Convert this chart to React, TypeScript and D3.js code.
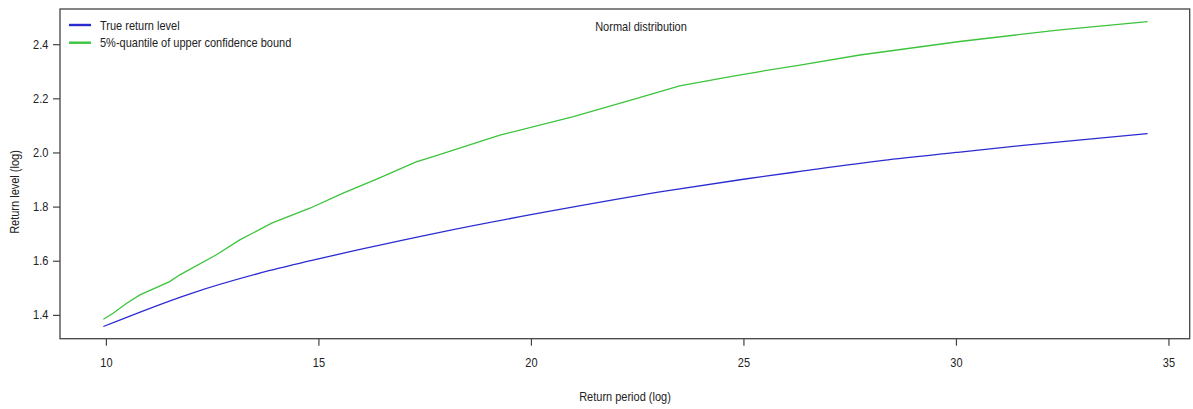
import * as d3 from "d3";
import { useEffect, useRef } from "react";

// true return level (blue)
const trueX = [9.94, 11.98, 13.86, 15, 15.9, 17.86, 20, 20.45, 23.19, 25, 26.33, 28.29, 30, 31.58, 34.51];
const trueY = [1.357, 1.478, 1.564, 1.607, 1.639, 1.705, 1.77, 1.783, 1.858, 1.901, 1.93, 1.971, 2.0, 2.026, 2.07];

// 5%-quantile of upper confidence bound (green)
const boundX = [9.94, 10.17, 10.49, 10.8, 11.5, 11.74, 12.6, 13.15, 13.9, 14.8, 15.58, 16.33, 17.3, 17.7, 19.27, 21.0, 22.41, 23.5, 24.76, 25.39, 26.33, 27.74, 30.09, 32.45, 34.51];
const boundY = [1.384, 1.406, 1.443, 1.474, 1.523, 1.548, 1.622, 1.677, 1.739, 1.794, 1.85, 1.899, 1.965, 1.985, 2.064, 2.132, 2.196, 2.246, 2.282, 2.299, 2.323, 2.36, 2.41, 2.453, 2.483];

const xTicks = [10, 15, 20, 25, 30, 35];
const yTicks = [1.4, 1.6, 1.8, 2.0, 2.2, 2.4];

const legendItems = [
  { label: "True return level", color: "#2b2bd2" },
  { label: "5%-quantile of upper confidence bound", color: "#3cc43c" },
];

const width = 1193;
const height = 409;
const plot = { left: 60, right: 1189.7, top: 9, bottom: 338.7 };
const font = "'Liberation Sans', Arial, sans-serif";
const squeeze = 0.88;

export default function App() {
  const svgRef = useRef<SVGSVGElement>(null);

  useEffect(() => {
    if (!svgRef.current) return;
    const svg = d3.select(svgRef.current);
    svg.selectAll("*").remove();

    const xScale = d3.scaleLinear().domain([8.92, 35.5]).range([plot.left, plot.right]);
    const yScale = d3.scaleLinear().domain([1.312, 2.53]).range([plot.bottom, plot.top]);

    // x axis
    const xAxis = svg.append("g")
      .attr("transform", `translate(0, ${plot.bottom})`)
      .call(d3.axisBottom(xScale).tickValues(xTicks).tickSize(7).tickPadding(12.3).tickFormat(d3.format("d")));
    xAxis.select(".domain").remove();
    xAxis.selectAll("line").attr("stroke", "#444").attr("stroke-width", 1.2);
    xAxis.selectAll("text")
      .attr("font-size", 12.5)
      .attr("font-family", font)
      .attr("fill", "#222")
      .attr("transform", `scale(${squeeze},1)`);

    // y axis
    const yAxis = svg.append("g")
      .attr("transform", `translate(${plot.left}, 0)`)
      .call(d3.axisLeft(yScale).tickValues(yTicks).tickSize(7).tickFormat(d3.format(".1f")));
    yAxis.select(".domain").remove();
    yAxis.selectAll("line").attr("stroke", "#444").attr("stroke-width", 1.2);
    yAxis.selectAll("text")
      .attr("font-size", 12.5)
      .attr("font-family", font)
      .attr("fill", "#222")
      .attr("x", -11.7 / squeeze)
      .attr("transform", `scale(${squeeze},1)`);

    // plot frame
    svg.append("rect")
      .attr("x", plot.left)
      .attr("y", plot.top)
      .attr("width", plot.right - plot.left)
      .attr("height", plot.bottom - plot.top)
      .attr("fill", "none")
      .attr("stroke", "#444")
      .attr("stroke-width", 1.3);

    const line = d3.line<[number, number]>()
      .x((d) => xScale(d[0]))
      .y((d) => yScale(d[1]));

    svg.append("path")
      .datum(trueX.map((v, i) => [v, trueY[i]] as [number, number]))
      .attr("d", line.curve(d3.curveMonotoneX))
      .attr("fill", "none")
      .attr("stroke", legendItems[0].color)
      .attr("stroke-width", 1.3);

    svg.append("path")
      .datum(boundX.map((v, i) => [v, boundY[i]] as [number, number]))
      .attr("d", line.curve(d3.curveLinear))
      .attr("fill", "none")
      .attr("stroke", legendItems[1].color)
      .attr("stroke-width", 1.3);

    // legend, top left inside the frame
    legendItems.forEach((item, i) => {
      const ly = 25 + i * 17.7;
      svg.append("line")
        .attr("x1", 69).attr("x2", 91)
        .attr("y1", ly).attr("y2", ly)
        .attr("stroke", item.color)
        .attr("stroke-width", 2.4);
      svg.append("text")
        .attr("transform", `translate(100, ${ly}) scale(${squeeze},1)`)
        .attr("dy", "0.36em")
        .attr("font-size", 12.5)
        .attr("font-family", font)
        .attr("fill", "#222")
        .text(item.label);
    });

    svg.append("text")
      .attr("transform", `translate(641, 30.7) scale(${squeeze},1)`)
      .attr("text-anchor", "middle")
      .attr("font-size", 12.5)
      .attr("font-family", font)
      .attr("fill", "#222")
      .text("Normal distribution");

    svg.append("text")
      .attr("transform", `translate(625, 401) scale(${squeeze},1)`)
      .attr("text-anchor", "middle")
      .attr("font-size", 12.5)
      .attr("font-family", font)
      .attr("fill", "#222")
      .text("Return period (log)");

    svg.append("text")
      .attr("transform", `translate(18.7, 192) rotate(-90) scale(${squeeze},1)`)
      .attr("text-anchor", "middle")
      .attr("font-size", 12.5)
      .attr("font-family", font)
      .attr("fill", "#222")
      .text("Return level (log)");
  }, []);

  return (
    <svg
      ref={svgRef}
      width={width}
      height={height}
      style={{ position: "absolute", left: 0, top: 0, background: "#fff" }}
    ></svg>
  );
}
